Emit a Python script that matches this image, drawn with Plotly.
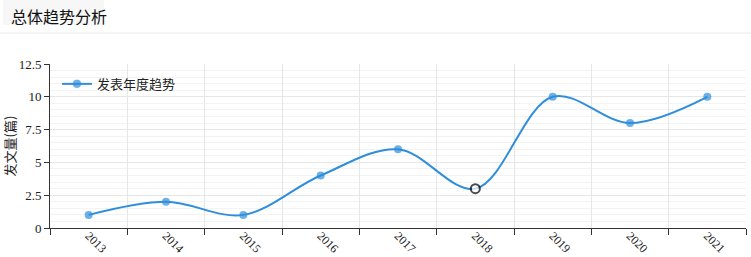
import plotly.graph_objects as go

years = ["2013", "2014", "2015", "2016", "2017", "2018", "2019", "2020", "2021"]
counts = [1, 2, 1, 4, 6, 3, 10, 8, 10]
series_name = "发表年度趋势"
highlight_year = "2018"
y_ticks = [0, 2.5, 5, 7.5, 10, 12.5]
y_tick_text = ["0", "2.5", "5", "7.5", "10", "12.5"]

blue = "#2f8edb"
fill = ["#ffffff" if y == highlight_year else blue for y in years]
edge = ["#000000" if y == highlight_year else blue for y in years]
edge_w = [2 if y == highlight_year else 0 for y in years]
size = [9 if y == highlight_year else 8 for y in years]

serif = "Liberation Serif, Noto Sans CJK SC, serif"
PW, PH = 696, 164

fig = go.Figure()
fig.add_trace(go.Scatter(
    x=years, y=counts, name=series_name, mode="lines+markers",
    line=dict(color=blue, width=2, shape="spline", smoothing=1),
    marker=dict(color=fill, size=size, line=dict(color=edge, width=edge_w)),
    hoverinfo="skip",
))

fig.update_layout(
    width=751, height=257,
    margin=dict(l=50, r=5, t=64, b=29, autoexpand=False),
    paper_bgcolor="white", plot_bgcolor="white",
    font=dict(family=serif, size=12, color="#222"),
    showlegend=True,
    legend=dict(x=0.01, y=0.97, xanchor="left", yanchor="top",
                bgcolor="rgba(0,0,0,0)", font=dict(size=13, family="Noto Sans CJK SC, serif", color="#222")),
    xaxis=dict(
        type="category", tickson="boundaries", showgrid=True, gridcolor="#e6e6e6",
        ticks="outside", ticklen=6, tickcolor="#333", showline=True, linecolor="#333",
        tickangle=45, tickfont=dict(size=12, family=serif, color="#222"), ticklabelstandoff=-5,
        range=[-0.5, len(years) - 0.5], fixedrange=True, zeroline=False, automargin=False,
    ),
    yaxis=dict(
        range=[0, 12.5], tickvals=y_ticks, ticktext=y_tick_text,
        showgrid=True, gridcolor="#e6e6e6", ticks="outside", ticklen=5, tickcolor="#333",
        showline=True, linecolor="#333", zeroline=False, automargin=False,
        minor=dict(dtick=0.5, showgrid=True, gridcolor="#f3f3f3", ticks=""),
        title=dict(text="发文量(篇)", font=dict(size=13, family="Noto Sans CJK SC, serif", color="#222"), standoff=6),
        tickfont=dict(size=13, family=serif, color="#222"),
    ),
    shapes=[
        dict(type="rect", xref="paper", yref="paper", x0=-47/PW, x1=54/PW, y0=1 + 39/PH, y1=1 + 64/PH,
             fillcolor="#f7f7f7", line=dict(width=0), layer="below"),
        dict(type="line", xref="paper", yref="paper", x0=-50/PW, x1=1 + 5/PW, y0=1 + 31/PH, y1=1 + 31/PH,
             line=dict(color="#e8e8e8", width=1)),
    ],
    annotations=[
        dict(text="总体趋势分析", xref="paper", yref="paper", x=-41/PW, y=1 + 62/PH,
             xanchor="left", yanchor="top", showarrow=False,
             font=dict(size=16, family="Noto Sans CJK SC, sans-serif", color="#111")),
    ],
)

fig.write_html("out.html", config={"displayModeBar": False},
               post_script="document.body.style.margin='0';document.body.style.overflow='hidden';")
